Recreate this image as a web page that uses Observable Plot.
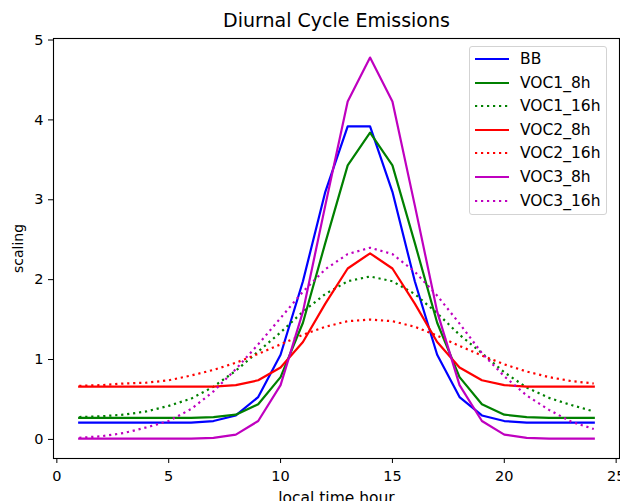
<!DOCTYPE html>
<html>
<head>
<meta charset="utf-8">
<script src="https://cdn.jsdelivr.net/npm/d3@7"></script>
<script src="https://cdn.jsdelivr.net/npm/@observablehq/plot@0.6"></script>
<style>
html, body { margin: 0; padding: 0; background: #fff; }
#chart { position: relative; width: 620px; height: 501px; overflow: hidden; font-family: "DejaVu Sans", sans-serif; }
#legend { position: absolute; left: 469px; top: 46px; width: 138px; height: 169px; box-sizing: border-box;
  border: 1px solid #d3d3d3; border-radius: 3px; background: rgba(255,255,255,0.85); }
.row { position: absolute; left: 0; height: 20px; display: flex; align-items: center; font-size: 15.5px; color: #000; white-space: nowrap; }
.row svg { margin-left: 5px; margin-right: 11px; }
</style>
</head>
<body>
<div id="chart"></div>
<script>
// ---- data ----
const hours = [1,2,3,4,5,6,7,8,9,10,11,12,13,14,15,16,17,18,19,20,21,22,23,24];

const BB       = [0.21,0.21,0.21,0.21,0.21,0.21,0.23,0.30,0.53,1.06,1.98,3.10,3.92,3.92,3.10,1.98,1.06,0.53,0.30,0.23,0.21,0.21,0.21,0.21];
const VOC1_8h  = [0.27,0.27,0.27,0.27,0.27,0.27,0.28,0.31,0.44,0.78,1.46,2.46,3.43,3.84,3.43,2.46,1.46,0.78,0.44,0.31,0.28,0.27,0.27,0.27];
const VOC1_16h = [0.28,0.29,0.31,0.35,0.42,0.51,0.66,0.86,1.10,1.34,1.60,1.82,1.98,2.04,1.98,1.82,1.58,1.31,1.08,0.84,0.65,0.52,0.43,0.35];
const VOC2_8h  = [0.66,0.66,0.66,0.66,0.66,0.66,0.66,0.68,0.74,0.90,1.22,1.70,2.14,2.33,2.14,1.70,1.22,0.90,0.74,0.68,0.66,0.66,0.66,0.66];
const VOC2_16h = [0.67,0.68,0.70,0.71,0.74,0.80,0.87,0.96,1.07,1.19,1.31,1.41,1.48,1.50,1.48,1.41,1.30,1.17,1.05,0.94,0.85,0.78,0.73,0.70];
const VOC3_8h  = [0.01,0.01,0.01,0.01,0.01,0.01,0.02,0.06,0.23,0.68,1.60,2.93,4.23,4.78,4.23,2.93,1.60,0.68,0.23,0.06,0.02,0.01,0.01,0.01];
const VOC3_16h = [0.02,0.04,0.08,0.15,0.23,0.38,0.60,0.88,1.19,1.52,1.85,2.13,2.32,2.40,2.32,2.10,1.80,1.45,1.08,0.79,0.55,0.37,0.22,0.13];

const seriesNames = ["BB","VOC1_8h","VOC1_16h","VOC2_8h","VOC2_16h","VOC3_8h","VOC3_16h"];
const seriesValues = [BB, VOC1_8h, VOC1_16h, VOC2_8h, VOC2_16h, VOC3_8h, VOC3_16h];

const xTicks = [0,5,10,15,20,25];
const yTicks = [0,1,2,3,4,5];
const titleText = "Diurnal Cycle Emissions";
const xLabel = "local time hour";
const yLabel = "scaling";

// ---- styles ----
const seriesColors = ["#0000ff","#008000","#008000","#ff0000","#ff0000","#bf00bf","#bf00bf"];
const seriesDotted = [false,false,true,false,true,false,true];
const lw = 2.2;
const dots = "2.2,3.8";

const rows = [];
seriesNames.forEach((name, k) => {
  hours.forEach((h, i) => rows.push({series: name, hour: h, value: seriesValues[k][i]}));
});

const plot = Plot.plot({
  width: 620,
  height: 501,
  marginTop: 38,
  marginBottom: 43,
  marginLeft: 53,
  marginRight: 1,
  x: {domain: [-0.15, 25.15]},
  y: {domain: [-0.239, 5.019]},
  style: {fontFamily: "DejaVu Sans", fontSize: "14px", color: "black", background: "white", overflow: "hidden"},
  marks: [
    ...seriesNames.map((name, k) => Plot.line(rows.filter(r => r.series === name), {
      x: "hour", y: "value",
      stroke: seriesColors[k], strokeWidth: lw,
      strokeDasharray: seriesDotted[k] ? dots : undefined,
      strokeLinejoin: "round", strokeLinecap: seriesDotted[k] ? "butt" : "square"
    })),
    Plot.frame({stroke: "black", strokeWidth: 1.1}),
    Plot.axisX({ticks: xTicks, tickFormat: d => String(d), tickSize: 5, tickPadding: 7, label: null, fontSize: 14.5}),
    Plot.axisY({ticks: yTicks, tickFormat: d => String(d), tickSize: 5, tickPadding: 5, label: null, fontSize: 14.5}),
    Plot.text([titleText], {text: d => d, frameAnchor: "top", dy: -18, lineAnchor: "middle", textAnchor: "middle", fontSize: 19}),
    Plot.text([xLabel], {text: d => d, frameAnchor: "bottom", dy: 40, lineAnchor: "middle", textAnchor: "middle", fontSize: 15.5}),
    Plot.text([yLabel], {text: d => d, frameAnchor: "left", dx: -35, rotate: -90, lineAnchor: "middle", textAnchor: "middle", fontSize: 14})
  ]
});

const chart = document.getElementById("chart");
chart.appendChild(plot);

// ---- legend ----
const legend = document.createElement("div");
legend.id = "legend";
seriesNames.forEach((name, k) => {
  const row = document.createElement("div");
  row.className = "row";
  row.style.top = (2 + k * 23.6) + "px";
  const sw = d3.create("svg").attr("width", 34).attr("height", 8);
  sw.append("line").attr("x1", 0).attr("x2", 34).attr("y1", 4).attr("y2", 4)
    .attr("stroke", seriesColors[k]).attr("stroke-width", lw)
    .attr("stroke-dasharray", seriesDotted[k] ? dots : null);
  row.appendChild(sw.node());
  const t = document.createElement("span");
  t.textContent = name;
  row.appendChild(t);
  legend.appendChild(row);
});
chart.appendChild(legend);
</script>
</body>
</html>
